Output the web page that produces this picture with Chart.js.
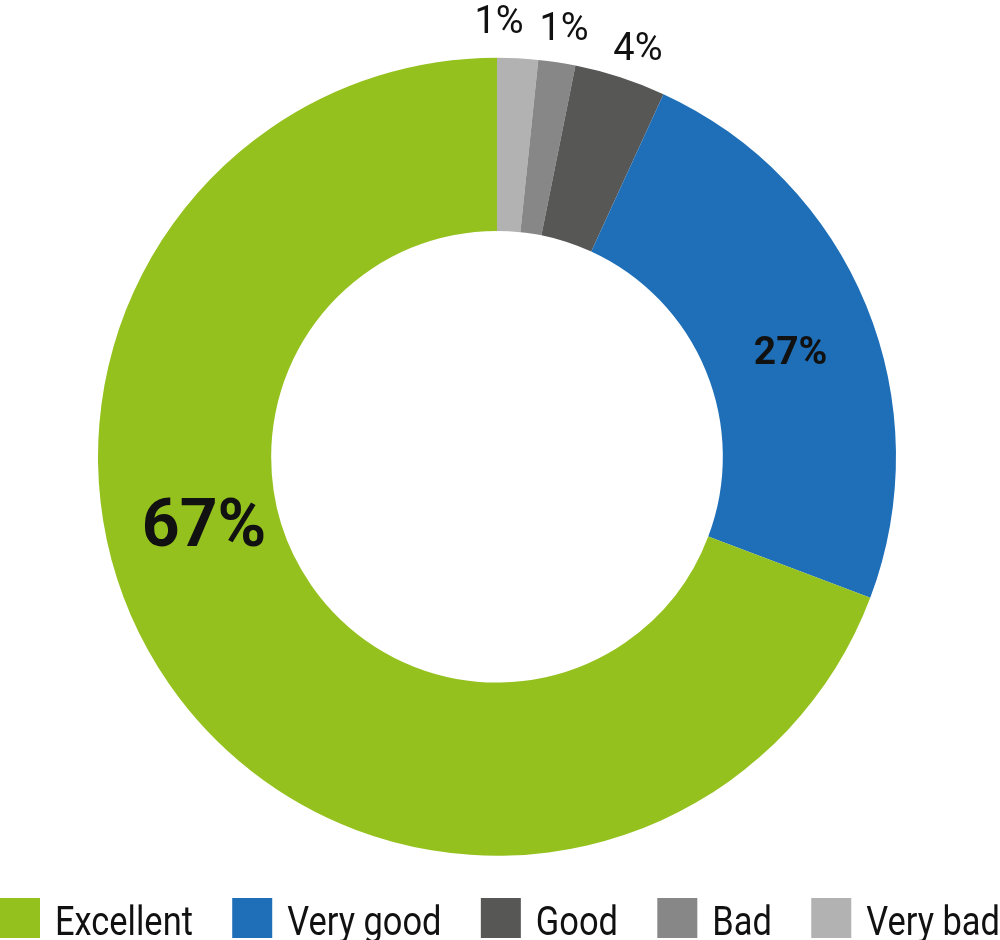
<!DOCTYPE html>
<html>
<head>
<meta charset="utf-8">
<script src="https://cdn.jsdelivr.net/npm/chart.js@4.4.1/dist/chart.umd.min.js"></script>
<style>
  html, body { margin: 0; padding: 0; background: #fff; overflow: hidden; }
  #wrap { position: relative; width: 1000px; height: 940px; }
</style>
</head>
<body>
<div id="wrap"><canvas id="rating"></canvas></div>
<script>
// Survey answers, in legend order
var categories = ['Excellent', 'Very good', 'Good', 'Bad', 'Very bad'];
// share of the ring each answer takes
var shares = [69.25, 23.9, 3.7, 1.5, 1.65];
// percentages printed on the chart
var shownPercent = ['67%', '27%', '4%', '1%', '1%'];
var colors = ['#95C11F', '#1E6FB8', '#575756', '#878787', '#B2B2B2'];

// the original runs counter-clockwise from 12 o'clock, chart.js runs clockwise,
// so the slices go in reversed
var rev = a => a.slice().reverse();

// where each printed value sits: t = along the slice, r = from inner (0) to outer (1) edge
var labelSpots = {
  'Excellent': { t: 0.588, r: 0.43, size: 66, weight: 'bold' },
  'Very good': { t: 0.527, r: 0.50, size: 39, weight: 'bold' },
  'Good':      { t: 0.572, r: 1.20, size: 38, weight: 'normal' },
  'Bad':       { t: 0.54,  r: 1.21, size: 38, weight: 'normal' },
  'Very bad':  { t: 0.044, r: 1.22, size: 38, weight: 'normal' }
};

var sliceLabels = {
  id: 'sliceLabels',
  afterDatasetsDraw: function(chart) {
    var ctx = chart.ctx;
    var meta = chart.getDatasetMeta(0);
    var names = chart.data.labels;
    meta.data.forEach(function(arc, i) {
      var p = arc.getProps(['x', 'y', 'startAngle', 'endAngle', 'innerRadius', 'outerRadius'], true);
      var name = names[i];
      var spot = labelSpots[name];
      var a = p.startAngle + (p.endAngle - p.startAngle) * spot.t;
      var r = p.innerRadius + (p.outerRadius - p.innerRadius) * spot.r;
      ctx.save();
      ctx.font = spot.weight + ' ' + spot.size + 'px Roboto';
      ctx.fillStyle = '#111111';
      ctx.textAlign = 'center';
      ctx.textBaseline = 'alphabetic';
      // digits are 0.71em tall, so drop the baseline by half of that
      ctx.fillText(shownPercent[categories.indexOf(name)],
        p.x + Math.cos(a) * r, p.y + Math.sin(a) * r + spot.size * 0.355);
      ctx.restore();
    });
  }
};

// legend along the bottom edge, spread over the full width, narrow lettering
var bottomLegend = {
  id: 'bottomLegend',
  afterDraw: function(chart) {
    var ctx = chart.ctx;
    var box = 40, gap = 15, squeeze = 0.84;
    var top = chart.height - 42;
    ctx.save();
    ctx.font = '41px Roboto';
    var widths = categories.map(c => ctx.measureText(c).width * squeeze);
    var used = widths.reduce((s, w) => s + w + box + gap, 0);
    var spread = (chart.width - used) / (categories.length - 1);
    var x = 0;
    categories.forEach(function(c, i) {
      ctx.fillStyle = colors[i];
      ctx.fillRect(x, top, box, box);
      ctx.fillStyle = '#111111';
      ctx.textBaseline = 'alphabetic';
      ctx.save();
      ctx.translate(x + box + gap, top + 37);
      ctx.scale(squeeze, 1);
      ctx.fillText(c, 0, 0);
      ctx.restore();
      x += box + gap + widths[i] + spread;
    });
    ctx.restore();
  }
};

var ctx = document.getElementById('rating').getContext('2d');
new Chart(ctx, {
  type: 'doughnut',
  data: {
    labels: rev(categories),
    datasets: [{
      data: rev(shares),
      backgroundColor: rev(colors),
      borderWidth: 0,
      hoverOffset: 0
    }]
  },
  options: {
    responsive: true,
    maintainAspectRatio: false,
    animation: false,
    radius: 399,
    cutout: '56.6%',
    layout: { padding: { top: 50.5, right: 6, bottom: 77, left: 0 } },
    plugins: {
      tooltip: { enabled: false },
      legend: { display: false }
    }
  },
  plugins: [sliceLabels, bottomLegend]
});
</script>
</body>
</html>
